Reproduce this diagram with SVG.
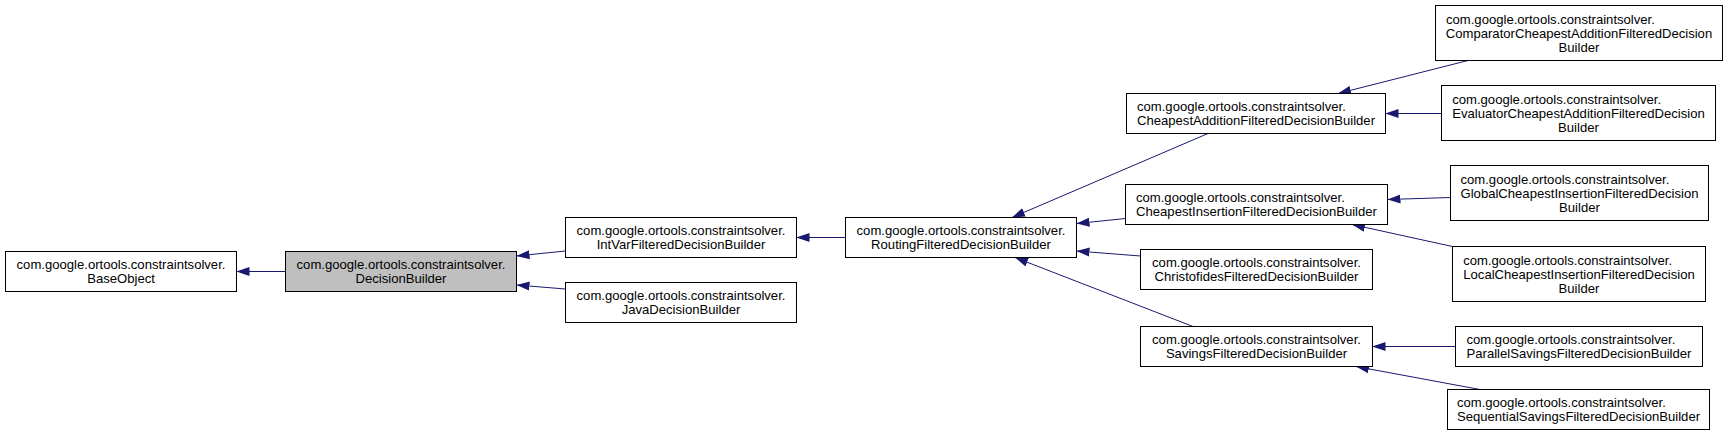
<svg xmlns="http://www.w3.org/2000/svg" width="1728" height="438" viewBox="0 0 1728 438">
<defs>
<style>
.n rect{fill:#fff;stroke:#000;stroke-width:1}
.n.cur rect{fill:#bfbfbf}
.n text{font-family:"Liberation Sans",Arial,Helvetica,sans-serif;font-size:13.1px;fill:#000}
.c{text-anchor:middle}
.l{text-anchor:start}
#edges path{fill:none;stroke:#191970;stroke-width:1;marker-end:url(#arr)}
</style>
<marker id="arr" viewBox="0 -5 13 10" refX="13" refY="0" markerWidth="13" markerHeight="10" markerUnits="userSpaceOnUse" orient="auto">
<path d="M0,-4.5L13,0L0,4.5z" fill="#191970"/>
</marker>
</defs>
<rect width="1728" height="438" fill="#fff"/>
<g id="edges">
<path d="M285.5,271.5L236.5,271.5"/>
<path d="M565.5,251L516.5,256"/>
<path d="M565.5,289L516.5,285"/>
<path d="M845.5,237.5L796.5,237.5"/>
<path d="M1208,133.5L1012,217.5"/>
<path d="M1125.5,218.5L1076.5,223.5"/>
<path d="M1140.5,256L1076.5,251"/>
<path d="M1193,326.5L1015,257.5"/>
<path d="M1468,60.5L1338,93.5"/>
<path d="M1441.5,113.5L1385.5,113.5"/>
<path d="M1450.5,197.5L1387.5,199.5"/>
<path d="M1452.5,246.5L1352,224.5"/>
<path d="M1455.5,346.5L1372.5,346.5"/>
<path d="M1480,389.5L1356,366.5"/>
</g>
<g id="baseobject" class="n">
<rect x="5.5" y="251.5" width="231" height="40"/>
<text class="c" x="121" y="269.1">com.google.ortools.constraintsolver.</text>
<text class="c" x="121" y="283.1">BaseObject</text>
</g>
<g id="decisionbuilder" class="n cur">
<rect x="285.5" y="251.5" width="231" height="40"/>
<text class="c" x="401" y="269.1">com.google.ortools.constraintsolver.</text>
<text class="c" x="401" y="283.1">DecisionBuilder</text>
</g>
<g id="intvar" class="n">
<rect x="565.5" y="217.5" width="231" height="40"/>
<text class="c" x="681" y="235.1">com.google.ortools.constraintsolver.</text>
<text class="c" x="681" y="249.1">IntVarFilteredDecisionBuilder</text>
</g>
<g id="java" class="n">
<rect x="565.5" y="282.5" width="231" height="40"/>
<text class="c" x="681" y="300.1">com.google.ortools.constraintsolver.</text>
<text class="c" x="681" y="314.1">JavaDecisionBuilder</text>
</g>
<g id="routing" class="n">
<rect x="845.5" y="217.5" width="231" height="40"/>
<text class="c" x="961" y="235.1">com.google.ortools.constraintsolver.</text>
<text class="c" x="961" y="249.1">RoutingFilteredDecisionBuilder</text>
</g>
<g id="cheapestaddition" class="n">
<rect x="1126.5" y="93.5" width="259" height="40"/>
<text class="l" x="1137" y="111.1">com.google.ortools.constraintsolver.</text>
<text class="c" x="1256" y="125.1">CheapestAdditionFilteredDecisionBuilder</text>
</g>
<g id="cheapestinsertion" class="n">
<rect x="1125.5" y="184.5" width="262" height="40"/>
<text class="l" x="1136" y="202.1">com.google.ortools.constraintsolver.</text>
<text class="c" x="1256.5" y="216.1">CheapestInsertionFilteredDecisionBuilder</text>
</g>
<g id="christofides" class="n">
<rect x="1140.5" y="249.5" width="232" height="40"/>
<text class="c" x="1256.5" y="267.1">com.google.ortools.constraintsolver.</text>
<text class="c" x="1256.5" y="281.1">ChristofidesFilteredDecisionBuilder</text>
</g>
<g id="savings" class="n">
<rect x="1140.5" y="326.5" width="232" height="40"/>
<text class="c" x="1256.5" y="344.1">com.google.ortools.constraintsolver.</text>
<text class="c" x="1256.5" y="358.1">SavingsFilteredDecisionBuilder</text>
</g>
<g id="comparator" class="n">
<rect x="1435.5" y="5.5" width="287" height="55"/>
<text class="l" x="1446" y="23.6">com.google.ortools.constraintsolver.</text>
<text class="c" x="1579" y="37.6">ComparatorCheapestAdditionFilteredDecision</text>
<text class="c" x="1579" y="51.6">Builder</text>
</g>
<g id="evaluator" class="n">
<rect x="1441.5" y="85.5" width="274" height="55"/>
<text class="l" x="1452.2" y="103.6">com.google.ortools.constraintsolver.</text>
<text class="c" x="1578.5" y="117.6">EvaluatorCheapestAdditionFilteredDecision</text>
<text class="c" x="1578.5" y="131.6">Builder</text>
</g>
<g id="global" class="n">
<rect x="1450.5" y="165.5" width="258" height="55"/>
<text class="l" x="1460.5" y="183.6">com.google.ortools.constraintsolver.</text>
<text class="c" x="1579.5" y="197.6">GlobalCheapestInsertionFilteredDecision</text>
<text class="c" x="1579.5" y="211.6">Builder</text>
</g>
<g id="local" class="n">
<rect x="1452.5" y="246.5" width="253" height="55"/>
<text class="l" x="1463.2" y="264.6">com.google.ortools.constraintsolver.</text>
<text class="c" x="1579" y="278.6">LocalCheapestInsertionFilteredDecision</text>
<text class="c" x="1579" y="292.6">Builder</text>
</g>
<g id="parallel" class="n">
<rect x="1455.5" y="326.5" width="247" height="40"/>
<text class="l" x="1466.5" y="344.1">com.google.ortools.constraintsolver.</text>
<text class="c" x="1579" y="358.1">ParallelSavingsFilteredDecisionBuilder</text>
</g>
<g id="sequential" class="n">
<rect x="1447.5" y="389.5" width="262" height="40"/>
<text class="l" x="1456.9" y="407.1">com.google.ortools.constraintsolver.</text>
<text class="c" x="1578.5" y="421.1">SequentialSavingsFilteredDecisionBuilder</text>
</g>
</svg>
